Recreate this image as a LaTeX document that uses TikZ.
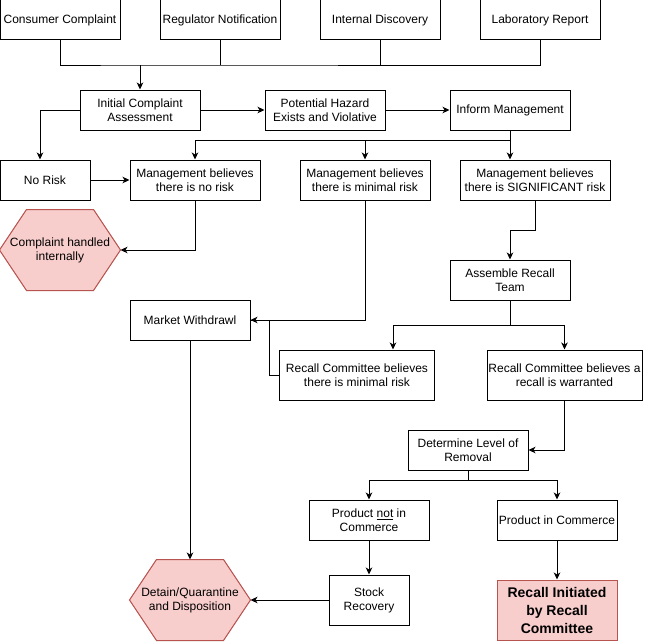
\documentclass[tikz,border=0pt]{standalone}
\usepackage{fontspec}
\setmainfont{Liberation Sans}
\usetikzlibrary{arrows.meta,positioning,backgrounds}
\definecolor{alertfill}{RGB}{248,206,204}
\definecolor{alertline}{RGB}{184,84,80}

\begin{document}
\begin{tikzpicture}[
  x=1pt, y=-1pt,
  box/.style={
    draw,
    line width=1pt,
    minimum width=120pt,
    minimum height=40pt,
    inner sep=1pt,
    align=center,
    font=\fontsize{12}{14}\selectfont
  },
  hexbox/.style={
    box,
    draw=none,
    minimum height=80pt
  },
  hexline/.style={fill=alertfill, draw=alertline, line width=1pt},
  arr/.style={-{Stealth[length=7pt,width=6.5pt,inset=2pt]}, line width=1pt},
  wire/.style={line width=1pt}
]
\useasboundingbox (0,0) rectangle (647,642);

% sources
\node[box] (cc) at (60,20) {Consumer Complaint};
\node[box] (rn) at (220,20) {Regulator Notification};
\node[box] (id) at (380,20) {Internal Discovery};
\node[box] (lr) at (540,20) {Laboratory Report};

% assessment row
\node[box] (ica) at (140,110) {Initial Complaint\\Assessment};
\node[box] (ph) at (325,110) {Potential Hazard\\Exists and Violative};
\node[box] (im) at (510,110) {Inform Management};

% management decisions
\node[box,minimum width=90pt] (nr) at (45,180) {No Risk};
\node[box,minimum width=130pt] (mbn) at (195,180) {Management believes\\there is no risk};
\node[box,minimum width=130pt] (mbm) at (365,180) {Management believes\\there is minimal risk};
\node[box,minimum width=150pt] (mbs) at (535,180) {Management believes\\there is SIGNIFICANT risk};
\node[hexbox] (cih) at (60,250) {Complaint handled\\internally};

% recall committee
\node[box] (art) at (510,280) {Assemble Recall\\Team};
\node[box] (mw) at (190,320) {Market Withdrawl};
\node[box,minimum width=155pt,minimum height=50pt] (rcm) at (357,375) {Recall Committee believes\\there is minimal risk};
\node[box,minimum width=155pt,minimum height=50pt] (rcw) at (564.5,375) {Recall Committee believes a\\recall is warranted};
\node[box] (dlr) at (468,450) {Determine Level of\\Removal};

% removal
\node[box] (pnc) at (369,520) {Product \underline{not} in\\Commerce};
\node[box] (pic) at (557,520) {Product in Commerce};
\node[box,minimum width=80pt,minimum height=50pt] (sr) at (369,600) {Stock\\Recovery};
\node[hexbox] (dqd) at (190,600) {Detain/Quarantine\\and Disposition};
\node[box,minimum height=60pt,fill=alertfill,draw=alertline,
  font=\fontsize{14}{18}\selectfont\bfseries] (ri) at (557,610) {Recall Initiated\\by Recall\\Committee};

% hexagon outlines behind the text
\begin{scope}[on background layer]
\foreach \h in {cih,dqd}
  \draw[hexline] ([xshift=27pt]\h.north west) -- ([xshift=-27pt]\h.north east)
    -- (\h.east) -- ([xshift=-27pt]\h.south east)
    -- ([xshift=27pt]\h.south west) -- (\h.west) -- cycle;
\end{scope}

% connectors
\coordinate (src) at (140,65);
\draw[wire] (cc.south) |- (src) -| (lr.south);
\draw[wire] (rn.south) -- (rn.south |- src);
\draw[wire] (id.south) -- (id.south |- src);
\draw[arr] (src) -- (ica.north);
\draw[arr] (ica) -- (ph);
\draw[arr] (ph) -- (im);
\draw[arr] (ica.west) -| ([xshift=-5pt]nr.north);
\draw[arr] (nr) -- (mbn);

\coordinate (mgmt) at (510,140);
\draw[arr] (im.south) -- (im.south |- mbs.north);
\draw[arr] (mgmt) -| (mbn.north);
\draw[arr] (mbm.north |- mgmt) -- (mbm.north);
\draw[arr] (mbn.south) |- (cih.east);
\draw[arr] (mbs.south) -- ++(0,30) -| (art.north);
\draw[arr] (mbm.south) |- (mw.east);
\draw[wire] (rcm.west) -- ++(-10,0) |- (mw.east);

\coordinate (team) at (510,325);
\draw[wire] (art.south) -- (team);
\draw[arr] (team) -| ([xshift=36pt]rcm.north);
\draw[arr] (team) -| (rcw.north);
\draw[arr] (rcw.south) |- (dlr.east);

\coordinate (level) at (468,480);
\draw[wire] (dlr.south) -- (level);
\draw[arr] (level) -| (pnc.north);
\draw[arr] (level) -| (pic.north);
\draw[arr] (pnc) -- (sr);
\draw[arr] (sr) -- (dqd);
\draw[arr] (mw) -- (dqd);
\draw[arr] (pic) -- (ri);
\end{tikzpicture}
\end{document}
